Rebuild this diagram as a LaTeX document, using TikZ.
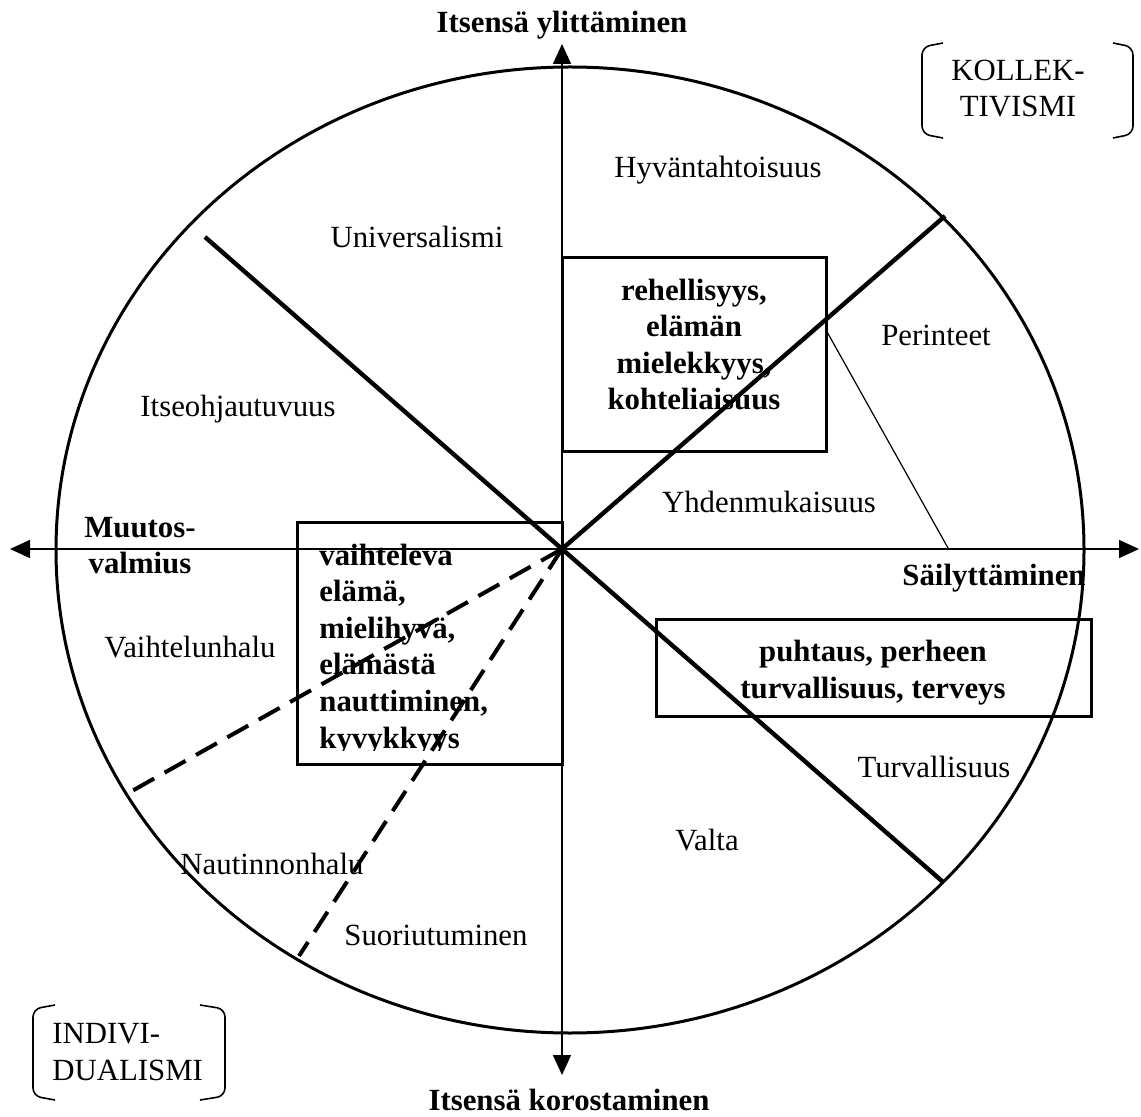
\documentclass[tikz,border=0pt]{standalone}
\usepackage{fontspec}
\setmainfont{Liberation Serif}
\usetikzlibrary{arrows.meta}
\begin{document}
\begin{tikzpicture}[x=0.5pt,y=-0.5pt,
  lbl/.style={font=\fontsize{15.4}{18.3}\selectfont, inner sep=0pt, anchor=base},
  bl/.style={font=\fontsize{15.4}{18.3}\selectfont\bfseries, inner sep=0pt, anchor=base},
  axisline/.style={line width=0.75pt, {Triangle[length=10pt,width=9pt]}-{Triangle[length=10pt,width=9pt]}},
  boldline/.style={line width=2.2pt},
  dashline/.style={line width=2pt, dash pattern=on 12pt off 6pt},
  valbox/.style={draw, line width=1.5pt, rectangle, inner sep=0pt},
  brack/.style={line width=0.8pt, rounded corners=4pt}
]
\fill[white] (0,0) rectangle (1141,1117);
\useasboundingbox (0,0) rectangle (1141,1117);

% coordinates
\coordinate (c) at (562,549);
\coordinate (axl) at (10,549);
\coordinate (axr) at (1139,549);
\coordinate (axt) at (562,44);
\coordinate (axb) at (562,1075);
\coordinate (nw) at (205,237);
\coordinate (se) at (943,882);
\coordinate (ne) at (945,216);
\coordinate (d1) at (132,791);
\coordinate (d2) at (299,956);
\coordinate (t1) at (826,330);
\coordinate (t2) at (948,548);

% ellipse
\draw[line width=1.5pt] (570,550) ellipse [x radius=514, y radius=483];

% axes
\draw[axisline] (axl) -- (axr);
\draw[axisline] (axt) -- (axb);

% bold division lines
\draw[boldline] (nw) -- (se);
\draw[boldline] (c) -- (ne);
\draw[line width=0.6pt] (t1) -- (t2);

% dashed lines
\draw[dashline] (c) -- (d1);
\draw[dashline] (c) -- (d2);

% boxes
\node[valbox, minimum width=132pt, minimum height=97pt] (box1) at (694,355) {};
\node[valbox, minimum width=132.5pt, minimum height=120.5pt] (box2) at (429.5,643.5) {};
\node[valbox, minimum width=217.5pt, minimum height=48.5pt] (box3) at (873.5,667.5) {};

% box texts (anchor base = baseline of the last line)
\node[bl, align=center] (b1t) at (694,410) {rehellisyys,\\elämän\\mielekkyys,\\kohteliaisuus};
\begin{scope}
\clip (297,523) rectangle (562,750);
\node[bl, align=left, anchor=base west] (b2t) at (319,748) {vaihteleva\\elämä,\\mielihyvä,\\elämästä\\nauttiminen,\\kyvykkyys};
\end{scope}
\node[bl, align=center] (b3t) at (873,698) {puhtaus, perheen\\turvallisuus, terveys};

% axis titles
\node[bl] (top) at (562,33) {Itsensä ylittäminen};
\node[bl] (bot) at (569,1110) {Itsensä korostaminen};
\node[bl, align=center] (left) at (140,574) {Muutos-\\valmius};
\node[bl] (right) at (994,586) {Säilyttäminen};

% sector labels
\node[lbl] (hyv) at (718,178) {Hyväntahtoisuus};
\node[lbl] (uni) at (417,248) {Universalismi};
\node[lbl] (per) at (936,346) {Perinteet};
\node[lbl] (its) at (238,417) {Itseohjautuvuus};
\node[lbl] (yhd) at (769,513) {Yhdenmukaisuus};
\node[lbl] (vai) at (190,657) {Vaihtelunhalu};
\node[lbl] (tur) at (934,777) {Turvallisuus};
\node[lbl] (val) at (707,850) {Valta};
\node[lbl] (nau) at (272,874) {Nautinnonhalu};
\node[lbl] (suo) at (436,945) {Suoriutuminen};

% corner labels with brackets
\node[lbl, align=center] (kol) at (1018,117) {KOLLEK-\\TIVISMI};
\draw[brack] (943,43) -- (922,47) -- (922,134) -- (943,138);
\draw[brack] (1113,43) -- (1133,47) -- (1133,134) -- (1113,138);
\node[lbl, align=left, anchor=base west] (ind) at (52,1080) {INDIVI-\\DUALISMI};
\draw[brack] (55,1005) -- (33,1009) -- (33,1096) -- (55,1100);
\draw[brack] (200,1005) -- (225,1009) -- (225,1096) -- (200,1100);
\end{tikzpicture}
\end{document}
